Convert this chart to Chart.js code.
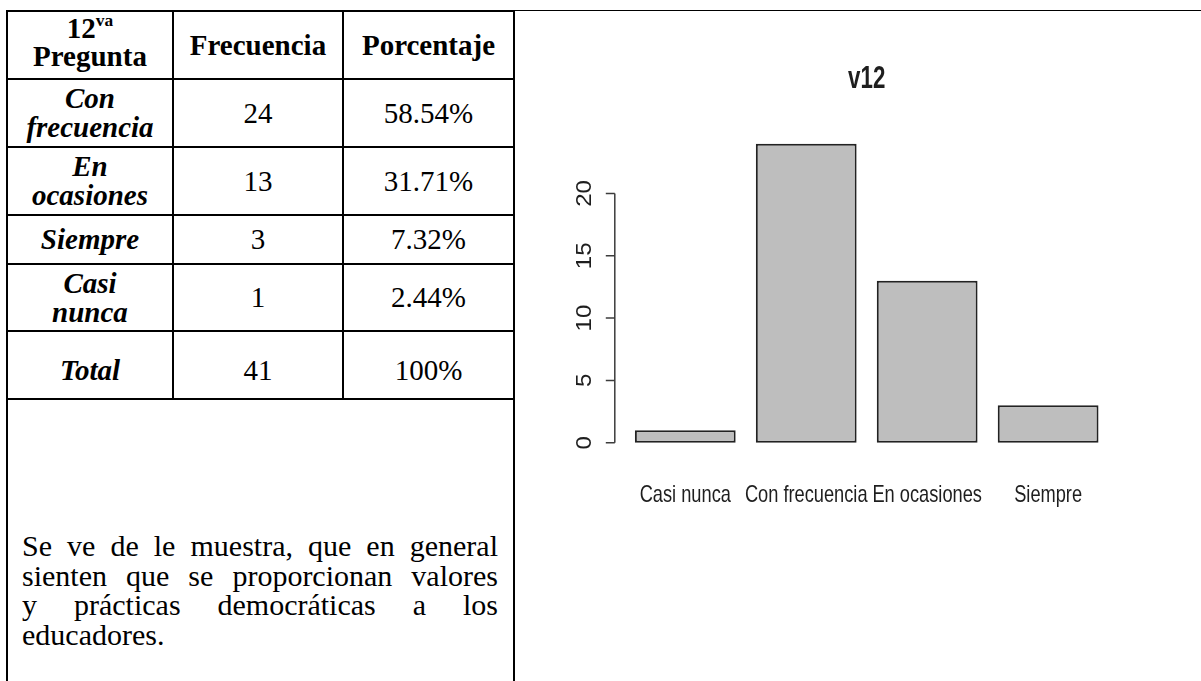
<!DOCTYPE html>
<html lang="es">
<head>
<meta charset="utf-8">
<title>v12</title>
<script src="https://cdn.jsdelivr.net/npm/chart.js@4.4.1/dist/chart.umd.min.js"></script>
<style>
  html, body { margin: 0; padding: 0; background: #fff; width: 1201px; height: 681px; overflow: hidden; }
  .top-rule { position: absolute; left: 512px; right: 0; top: 10px; height: 1px; background: #000; }
  table.tabla {
    position: absolute; left: 6px; top: 10px;
    border-collapse: separate; border-spacing: 0; table-layout: fixed; width: 507px;
    border-left: 2px solid #000; border-top: 2px solid #000;
    font-family: "Times New Roman", "Liberation Serif", Tinos, "DejaVu Serif", serif;
    font-size: 29px; color: #000;
  }
  .tabla td {
    border-right: 2px solid #000; border-bottom: 2px solid #000;
    text-align: center; vertical-align: middle; padding: 0 2px; line-height: 29px;
    box-sizing: border-box; overflow: hidden;
  }
  .tabla .cab { font-weight: bold; }
  .tabla .resp { font-weight: bold; font-style: italic; }
  .tabla .arriba { position: relative; top: -3px; display: inline-block; line-height: 28px; }
  .tabla .abajo { position: relative; top: 5px; display: inline-block; }
  .tabla sup { font-size: 0.6em; line-height: 0; vertical-align: 0.7em; }
  .tabla td.nota { text-align: left; vertical-align: top; padding: 131px 15px 0 14px; font-size: 30px; }
  .nota div { text-align: justify; text-align-last: justify; line-height: 29.5px; white-space: nowrap; }
  .nota div.ultima { text-align-last: left; }
  #grafico { position: absolute; left: 514px; top: 12px; }
</style>
</head>
<body>
<div class="top-rule"></div>
<table class="tabla">
  <colgroup><col style="width:166px"><col style="width:170px"><col style="width:171px"></colgroup>
  <tr style="height:68px"><td class="cab"><span class="arriba">12<sup>va</sup><br>Pregunta</span></td><td class="cab">Frecuencia</td><td class="cab">Porcentaje</td></tr>
  <tr style="height:68px"><td class="resp">Con<br>frecuencia</td><td>24</td><td>58.54%</td></tr>
  <tr style="height:68px"><td class="resp">En<br>ocasiones</td><td>13</td><td>31.71%</td></tr>
  <tr style="height:49px"><td class="resp">Siempre</td><td>3</td><td>7.32%</td></tr>
  <tr style="height:67px"><td class="resp">Casi<br>nunca</td><td>1</td><td>2.44%</td></tr>
  <tr style="height:68px"><td class="resp"><span class="abajo">Total</span></td><td><span class="abajo">41</span></td><td><span class="abajo">100%</span></td></tr>
  <tr style="height:320px"><td class="nota" colspan="3">
    <div>Se ve de le muestra, que en general</div>
    <div>sienten que se proporcionan valores</div>
    <div>y prácticas democráticas a los</div>
    <div class="ultima">educadores.</div>
  </td></tr>
</table>
<canvas id="grafico" width="687" height="669"></canvas>
<script>
// --- Chart data ---
const chartTitle = 'v12';
const categories = ['Casi nunca', 'Con frecuencia', 'En ocasiones', 'Siempre'];
const frequencies = [1, 24, 13, 3];
const yTicks = [0, 5, 10, 15, 20];

// R-style base graphics axes: short y axis from first to last tick, rotated labels,
// narrow text (the original picture is squeezed horizontally)
const rStyleAxes = {
  id: 'rStyleAxes',
  afterDraw(chart) {
    const { ctx, chartArea, scales } = chart;
    const x = scales.x, y = scales.y;
    const axisX = chartArea.left - 10;
    const zeroY = y.getPixelForValue(0);

    ctx.save();
    // axis line + ticks
    ctx.strokeStyle = '#3c3c3c';
    ctx.lineWidth = 1.5;
    ctx.beginPath();
    ctx.moveTo(axisX, y.getPixelForValue(yTicks[0]));
    ctx.lineTo(axisX, y.getPixelForValue(yTicks[yTicks.length - 1]));
    yTicks.forEach(v => {
      const py = y.getPixelForValue(v);
      ctx.moveTo(axisX, py);
      ctx.lineTo(axisX - 9, py);
    });
    ctx.stroke();

    ctx.fillStyle = '#1e1e1e';
    ctx.textAlign = 'center';
    ctx.textBaseline = 'middle';

    // y tick labels, reading bottom to top
    ctx.font = '24px "Liberation Sans", Arial, sans-serif';
    yTicks.forEach(v => {
      ctx.save();
      ctx.translate(axisX - 30, y.getPixelForValue(v));
      ctx.scale(0.9, 1);
      ctx.rotate(-Math.PI / 2);
      ctx.fillText(String(v), 0, 0);
      ctx.restore();
    });

    // category labels
    ctx.font = '24px "Liberation Sans", Arial, sans-serif';
    categories.forEach((c, i) => {
      ctx.save();
      ctx.translate(x.getPixelForValue(i), zeroY + 53);
      ctx.scale(0.76, 1);
      ctx.fillText(c, 0, 0);
      ctx.restore();
    });

    // main title
    ctx.font = 'bold 31px "Liberation Sans", Arial, sans-serif';
    ctx.save();
    ctx.translate((chartArea.left + chartArea.right) / 2, chartArea.top - 52);
    ctx.scale(0.72, 1);
    ctx.fillText(chartTitle, 0, 0);
    ctx.restore();

    ctx.restore();
  }
};

new Chart(document.getElementById('grafico'), {
  type: 'bar',
  data: {
    labels: categories,
    datasets: [{
      data: frequencies,
      backgroundColor: '#bebebe',
      borderColor: '#222',
      borderWidth: 2,
      borderSkipped: false,
      categoryPercentage: 1,
      barPercentage: 1 / 1.2
    }]
  },
  options: {
    responsive: false,
    animation: false,
    devicePixelRatio: 1,
    layout: { padding: { left: 110.8, right: 92.4, top: 119.7, bottom: 226.3 } },
    plugins: { legend: { display: false }, tooltip: { enabled: false }, title: { display: false } },
    scales: {
      x: { display: false, offset: true },
      y: { display: false, min: -0.96, max: 24.96 }
    }
  },
  plugins: [rStyleAxes]
});
</script>
</body>
</html>
